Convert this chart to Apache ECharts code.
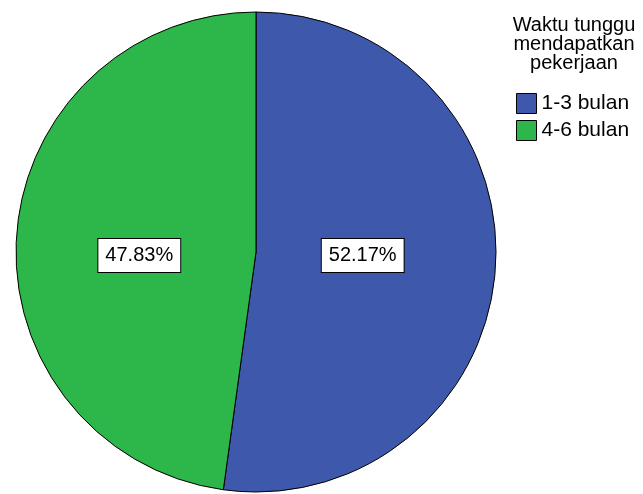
<!DOCTYPE html>
<html>
<head>
    <meta charset="utf-8" />
    <title>Waktu tunggu mendapatkan pekerjaan</title>
    <script src="https://cdn.jsdelivr.net/npm/echarts@6/dist/echarts.min.js"></script>
    <style>
        html, body { margin: 0; padding: 0; background: #fff; }
        #chart { width: 643px; height: 494px; }
    </style>
</head>
<body>
    <div id="chart"></div>
    <script>
        // data
        var categories = ['1-3 bulan', '4-6 bulan'];
        var counts = [12, 11];
        var colors = ['#3E58AB', '#2DB64A'];
        var labelOffsets = [[-16, -5], [6, 12]];
        var legendTitle = 'Waktu tunggu\nmendapatkan\npekerjaan';

        var chart = echarts.init(document.getElementById('chart'));

        var pieData = categories.map(function (name, i) {
            return {
                name: name,
                value: counts[i],
                itemStyle: { color: colors[i] },
                label: { offset: labelOffsets[i] }
            };
        });

        var option = {
            backgroundColor: '#fff',
            animation: false,
            title: {
                text: legendTitle,
                left: 574,
                top: 16,
                padding: 0,
                textAlign: 'center',
                textStyle: {
                    fontFamily: 'Liberation Sans',
                    fontSize: 20,
                    fontWeight: 'normal',
                    color: '#000',
                    lineHeight: 19
                }
            },
            legend: {
                orient: 'vertical',
                left: 516,
                top: 93,
                padding: 0,
                itemWidth: 20,
                itemHeight: 20,
                itemGap: 6,
                icon: 'rect',
                itemStyle: { borderColor: '#000', borderWidth: 1 },
                textStyle: {
                    fontFamily: 'Liberation Sans',
                    fontSize: 21,
                    color: '#000'
                },
                data: categories
            },
            series: [{
                type: 'pie',
                center: [256, 252],
                radius: 240,
                startAngle: 90,
                clockwise: true,
                silent: true,
                itemStyle: { borderColor: '#000', borderWidth: 1 },
                label: {
                    position: 'inside',
                    formatter: '{d}%',
                    fontFamily: 'Liberation Sans',
                    fontSize: 20,
                    lineHeight: 20,
                    color: '#000',
                    backgroundColor: '#fff',
                    borderColor: '#000',
                    borderWidth: 1,
                    padding: [7, 7, 6, 7]
                },
                labelLine: { show: false },
                data: pieData
            }]
        };

        chart.setOption(option);
    </script>
</body>
</html>
